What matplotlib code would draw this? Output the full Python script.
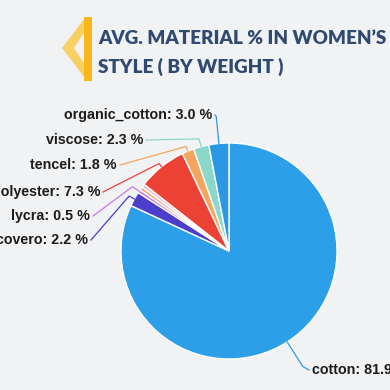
import matplotlib.pyplot as plt
from matplotlib.patches import Polygon, Rectangle
import numpy as np

# slices clockwise from 12 o'clock
materials = ["cotton", "covero", "lycra", "", "", "polyester", "tencel", "viscose", "organic_cotton"]
shares = [81.9, 2.2, 0.5, 0.5, 0.5, 7.3, 1.8, 2.3, 3.0]
colors = ["#2d9ee8", "#4a3ecb", "#c47ce6", "#e9a877", "#f5b9c9",
          "#ec4236", "#f4a660", "#8bd8cb", "#2b98e6"]

# label layout in pixels: (text x, text y, elbow extension, side)
label_pos = {
    "organic_cotton": (212, 115, 27, "right"),
    "viscose": (143, 140, 8, "right"),
    "tencel": (117, 165, 5, "right"),
    "polyester": (100, 192, 4, "right"),
    "lycra": (90, 216, 8, "right"),
    "covero": (88, 240, 6, "right"),
    "cotton": (312, 370, 29, "left"),
}

W = H = 390
cx, cy, R = 229, 251, 108


def Y(py):
    return H - py


fig = plt.figure(figsize=(3.9, 3.9), dpi=100, facecolor="#f1f2f4")
ax = fig.add_axes([0, 0, 1, 1])
ax.set_facecolor("#f1f2f4")

wedges, _ = ax.pie(shares, colors=colors, startangle=90, counterclock=False,
                   center=(cx, Y(cy)), radius=R,
                   wedgeprops=dict(edgecolor="white", linewidth=1.0))

for w, name, col in zip(wedges, materials, colors):
    if not name:
        continue
    tx, ty, ext, side = label_pos[name]
    ang = np.deg2rad((w.theta1 + w.theta2) / 2)
    ex, ey = cx + R * np.cos(ang), Y(cy) + R * np.sin(ang)
    bx, by = cx + (R + ext) * np.cos(ang), Y(cy) + (R + ext) * np.sin(ang)
    if side == "right":
        lx = tx + 3
    else:
        lx = tx - 3
    ax.plot([ex, bx, lx], [ey, by, Y(ty)], color=col, lw=0.9, solid_joinstyle="miter")
    val = shares[materials.index(name)]
    ax.text(tx, Y(ty), f"{name}: {val:.1f} %", ha=side, va="center",
            fontsize=10.3, fontweight="bold", color="#1c1c1c", family="Liberation Sans")

# title badge
ax.add_patch(Polygon([(85, Y(18)), (62, Y(48)), (85, Y(78)), (85, Y(65)),
                      (74, Y(48)), (85, Y(31))], closed=True,
                     facecolor="#f8cf62", edgecolor="none"))
ax.add_patch(Rectangle((84, Y(81)), 8, 64, facecolor="#fbb61b", edgecolor="none"))

ax.text(98, Y(38), "AVG. MATERIAL % IN WOMEN\u2019S JEANS PER", ha="left", va="center",
        fontsize=13.6, fontweight="heavy", color="#2f4a70", family="Lato")
ax.text(98, Y(67), "STYLE ( BY WEIGHT )", ha="left", va="center",
        fontsize=13.6, fontweight="heavy", color="#2f4a70", family="Lato")

ax.set_xlim(0, W)
ax.set_ylim(0, H)
ax.set_aspect("equal")
ax.axis("off")

fig.savefig("out.png", dpi=100, facecolor=fig.get_facecolor())
